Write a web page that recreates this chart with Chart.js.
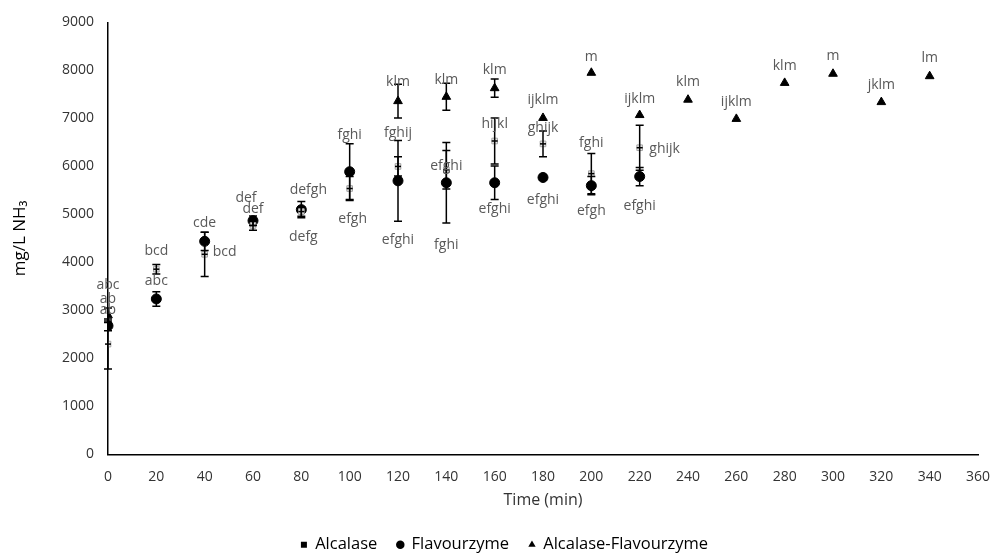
<!DOCTYPE html>
<html>
<head>
<meta charset="utf-8">
<script src="https://cdn.jsdelivr.net/npm/chart.js@4"></script>
<style>
  html, body { margin: 0; padding: 0; background: #fff; }
  #wrap { width: 990px; height: 555px; }
</style>
</head>
<body>
<div id="wrap"><canvas id="grafico"></canvas></div>
<script>
// data
const timesA = [0, 20, 40, 60, 80, 100, 120, 140, 160, 180, 200, 220]
const alcalase = [2300, 3860, 4170, 4770, 5060, 5540, 6000, 5930, 6530, 6470, 5850, 6390]
const alcalaseErr = [520, 100, 460, 100, 100, 250, 200, 400, 480, 270, 420, 470]
const alcalaseLbl = ['ab', 'bcd', 'bcd', 'def', 'defg', 'efgh', 'fghij', 'efghi', 'hijkl', 'ghijk', 'fghi', 'ghijk']

const timesF = [0, 20, 40, 60, 80, 100, 120, 140, 160, 180, 200, 220]
const flavourzyme = [2680, 3240, 4440, 4870, 5100, 5890, 5700, 5660, 5660, 5770, 5600, 5790]
const flavourzymeErr = [100, 150, 190, 100, 170, 580, 840, 840, 350, 60, 190, 190]
const flavourzymeLbl = ['ab', 'abc', 'cde', 'def', 'defgh', 'fghi', 'efghi', 'fghi', 'efghi', 'efghi', 'efgh', 'efghi']

const timesAF = [0, 120, 140, 160, 180, 200, 220, 240, 260, 280, 300, 320, 340]
const mixed = [2900, 7360, 7450, 7630, 7010, 7950, 7070, 7390, 6990, 7740, 7930, 7340, 7880]
const mixedErr = [150, 350, 280, 190, 0, 0, 0, 0, 0, 0, 0, 0, 0]
const mixedLbl = ['abc', 'klm', 'klm', 'klm', 'ijklm', 'm', 'ijklm', 'klm', 'ijklm', 'klm', 'm', 'jklm', 'lm']

// where each letter label sits, in px from its point
const alcalaseOff = [[0, -34], [0, -18], [20, -2], [0, -16], [2, 25], [3, 30], [0, -33], [0, -4], [0, -17], [0, -16], [0, -31], [25, 1]]
const flavourzymeOff = [[0, -27], [0, -18], [0, -18], [-7, -23], [7, -20], [0, -37], [0, 59], [0, 62], [0, 26], [0, 23], [0, 25], [0, 29]]
const mixedOff = [[0, -30], [0, -19], [0, -17], [0, -18], [0, -18], [0, -16], [0, -16], [0, -18], [0, -17], [0, -17], [0, -18], [0, -17], [0, -18]]

const pts = (xs, ys) => xs.map((x, i) => ({ x: x, y: ys[i] }))

const fontFam = "'Open Sans', 'Liberation Sans', sans-serif"

const errorBars = {
    id: 'errorBars',
    afterDatasetsDraw(chart) {
        const ctx = chart.ctx
        const xs = chart.scales.x
        const ys = chart.scales.y
        ctx.save()
        ctx.strokeStyle = '#000'
        ctx.lineWidth = 1.5
        chart.data.datasets.forEach(ds => {
            ds.data.forEach((p, i) => {
                const px = xs.getPixelForValue(p.x)
                const py = ys.getPixelForValue(p.y)
                if (ds.cross) {
                    // the little x-bar through the square markers
                    ctx.beginPath()
                    ctx.moveTo(px - 3, py); ctx.lineTo(px + 3, py)
                    ctx.stroke()
                }
                const e = ds.err[i]
                if (!e) return
                const top = ys.getPixelForValue(p.y + e)
                const bot = ys.getPixelForValue(p.y - e)
                ctx.beginPath()
                ctx.moveTo(px, top); ctx.lineTo(px, bot)
                ctx.moveTo(px - 4, top); ctx.lineTo(px + 4, top)
                ctx.moveTo(px - 4, bot); ctx.lineTo(px + 4, bot)
                ctx.stroke()
            })
        })
        // letter groups
        ctx.fillStyle = '#595959'
        ctx.font = '14px ' + fontFam
        ctx.textAlign = 'center'
        ctx.textBaseline = 'middle'
        chart.data.datasets.forEach(ds => {
            ds.data.forEach((p, i) => {
                const px = xs.getPixelForValue(p.x)
                const py = ys.getPixelForValue(p.y)
                ctx.fillText(ds.lbl[i], px + ds.off[i][0], py + ds.off[i][1])
            })
        })
        ctx.restore()
    }
}

// legend sits a little right of centre in the original
const nudgeLegend = {
    id: 'nudgeLegend',
    afterLayout(chart) {
        chart.legend.left += 10
        chart.legend.right += 10
    }
}

let ctx = document.getElementById('grafico').getContext('2d')

let grafico = new Chart(ctx, {
    type: 'scatter',
    data: {
        datasets: [{
            label: 'Alcalase',
            data: pts(timesA, alcalase),
            err: alcalaseErr,
            lbl: alcalaseLbl,
            off: alcalaseOff,
            cross: true,
            pointStyle: 'rect',
            pointRadius: 4,
            backgroundColor: '#e6e6e6',
            borderColor: '#a6a6a6',
            borderWidth: 1
        }, {
            label: 'Flavourzyme',
            data: pts(timesF, flavourzyme),
            err: flavourzymeErr,
            lbl: flavourzymeLbl,
            off: flavourzymeOff,
            pointStyle: 'circle',
            pointRadius: 5,
            backgroundColor: '#000',
            borderColor: '#000'
        }, {
            label: 'Alcalase-Flavourzyme',
            data: pts(timesAF, mixed),
            err: mixedErr,
            lbl: mixedLbl,
            off: mixedOff,
            pointStyle: 'triangle',
            pointRadius: 5,
            backgroundColor: '#000',
            borderColor: '#000'
        }]
    },
    plugins: [errorBars, nudgeLegend],
    options: {
        responsive: true,
        maintainAspectRatio: false,
        animation: false,
        layout: { padding: { top: 19, right: 1, left: 0, bottom: -8 } },
        scales: {
            x: {
                type: 'linear',
                min: 0,
                max: 360,
                grid: { display: false, drawTicks: false },
                border: { color: '#000', width: 1.5 },
                ticks: { stepSize: 20, color: '#333', padding: 14, font: { size: 14, family: fontFam } },
                title: { display: true, text: 'Time (min)', color: '#333', font: { size: 16, family: fontFam }, padding: { top: 2, bottom: 6 } },
                afterFit: s => { s.height = 62; s.paddingRight = 12; s.paddingLeft = 0 }
            },
            y: {
                min: 0,
                max: 9000,
                grid: { display: false, drawTicks: false },
                border: { color: '#000', width: 1.5 },
                ticks: { stepSize: 1000, color: '#333', padding: 14, font: { size: 14, family: fontFam }, callback: v => String(v) },
                title: { display: true, text: 'mg/L NH₃', color: '#000', font: { size: 17, family: fontFam }, padding: { top: 10, bottom: 4 } },
                afterFit: s => { s.width = 108 }
            }
        },
        plugins: {
            legend: {
                position: 'bottom',
                labels: {
                    usePointStyle: true,
                    boxWidth: 6,
                    boxHeight: 6,
                    padding: 20,
                    color: '#000',
                    font: { size: 16.5, family: fontFam },
                    generateLabels: chart => chart.data.datasets.map((ds, i) => ({
                        text: ds.label,
                        fillStyle: '#000',
                        strokeStyle: '#000',
                        pointStyle: ds.pointStyle,
                        lineWidth: 0,
                        datasetIndex: i,
                        hidden: false
                    }))
                }
            },
            tooltip: { enabled: false }
        }
    }
})
</script>
</body>
</html>
